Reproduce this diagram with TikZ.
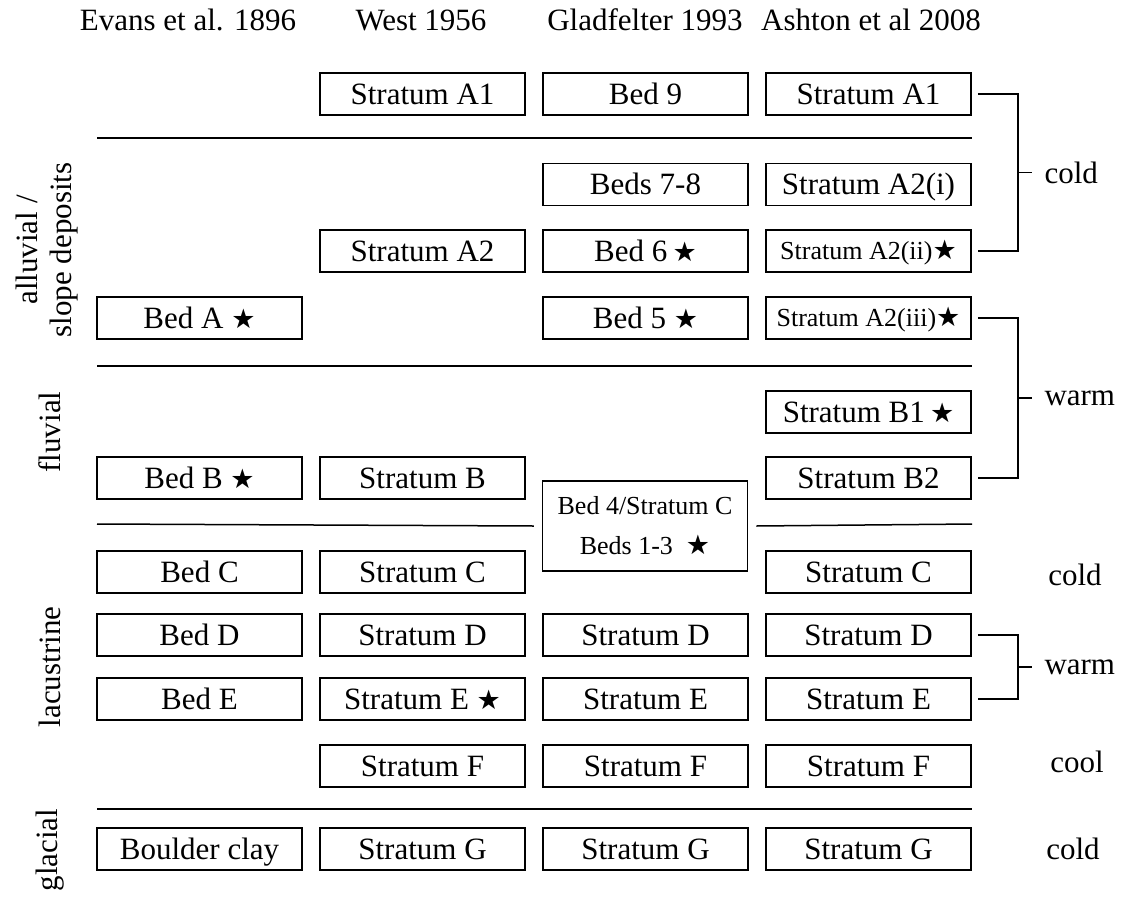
\documentclass[tikz,border=0pt]{standalone}
\usepackage{fontspec}
\setmainfont{Liberation Serif}
\newfontfamily\symfont{DejaVu Sans}
\usetikzlibrary{positioning,calc}
\newcommand{\fossil}{{\symfont\fontsize{27}{27}\selectfont ★}}
\tikzset{
  font=\fontsize{31}{34}\selectfont,
  framebox/.style={draw, line width=1.5pt, minimum width=205pt, minimum height=42pt,
    inner sep=0pt},
  layer/.style={framebox, text height=22pt, text depth=2pt},
  smalllayer/.style={framebox, font=\fontsize{26}{30}\selectfont,
    text height=19pt, text depth=2pt},
  divider/.style={line width=1.5pt},
  bracket/.style={line width=1.5pt},
  climate/.style={anchor=west, inner sep=0pt, xshift=12pt},
  facies/.style={rotate=90, align=center},
  head/.style={anchor=base},
}

\begin{document}
\begin{tikzpicture}[x=1pt,y=-1pt]
  \useasboundingbox (0,0) rectangle (1127,905);

  % column heads
  \node[head] (hEv)   at (188,30)   {Evans et al. 1896};
  \node[head] (hWest) at (421,30)   {West 1956};
  \node[head] (hGlad) at (645,30)   {Gladfelter 1993};
  \node[head] (hAsh)  at (871,30)   {Ashton et al 2008};

  % facies
  \node[facies] (fAll)  at (47,250) {alluvial /\\slope deposits};
  \node[facies] (fFluv) at (50,432) {fluvial};
  \node[facies] (fLac)  at (50,667) {lacustrine};
  \node[facies] (fGlac) at (50,850) {glacial};

  % Stratum A
  \node[layer] (westA1) at (422.5,94) {Stratum A1};
  \node[layer] (gladB9) at (645.5,94) {Bed 9};
  \node[layer] (ashA1)  at (868.5,94) {Stratum A1};

  \node[layer]      (gladB78) at (645.5,184.5) {Beds 7-8};
  \node[layer]      (ashA2i)  at (868.5,184.5) {Stratum A2(i)};
  \node[layer]      (westA2)  at (422.5,251)   {Stratum A2};
  \node[layer]      (gladB6)  at (645.5,251)   {Bed 6\,\fossil};
  \node[smalllayer] (ashA2ii) at (868.5,251)   {Stratum A2(ii)\fossil};
  \node[layer]      (evA)     at (199.5,318)   {Bed A \fossil};
  \node[layer]      (gladB5)  at (645.5,318)   {Bed 5 \fossil};
  \node[smalllayer] (ashA2iii) at (868.5,318)  {Stratum A2(iii)\fossil};

  % Stratum B
  \node[layer] (ashB1) at (868.5,412) {Stratum B1\,\fossil};
  \node[layer] (evB)   at (199.5,478) {Bed B \fossil};
  \node[layer] (westB) at (422.5,478) {Stratum B};
  \node[layer] (ashB2) at (868.5,478) {Stratum B2};
  \node[framebox, minimum height=90pt, align=center, font=\fontsize{26}{40}\selectfont]
    (gladC) at (645,526) {Bed 4/Stratum C\\Beds 1-3\enspace\fossil};

  % Stratum C to G
  \node[layer] (evC)   at (199.5,572) {Bed C};
  \node[layer] (westC) at (422.5,572) {Stratum C};
  \node[layer] (ashC)  at (868.5,572) {Stratum C};

  \node[layer] (evD)   at (199.5,635) {Bed D};
  \node[layer] (westD) at (422.5,635) {Stratum D};
  \node[layer] (gladD) at (645.5,635) {Stratum D};
  \node[layer] (ashD)  at (868.5,635) {Stratum D};

  \node[layer] (evE)   at (199.5,699) {Bed E};
  \node[layer] (westE) at (422.5,699) {Stratum E \fossil};
  \node[layer] (gladE) at (645.5,699) {Stratum E};
  \node[layer] (ashE)  at (868.5,699) {Stratum E};

  \node[layer] (westF) at (422.5,766) {Stratum F};
  \node[layer] (gladF) at (645.5,766) {Stratum F};
  \node[layer] (ashF)  at (868.5,766) {Stratum F};

  \node[layer] (evG)   at (199.5,849) {Boulder clay};
  \node[layer] (westG) at (422.5,849) {Stratum G};
  \node[layer] (gladG) at (645.5,849) {Stratum G};
  \node[layer] (ashG)  at (868.5,849) {Stratum G};

  % facies boundaries
  \draw[divider] (97,138) -- (972,138);
  \draw[divider] (97,366) -- (972,366);
  \draw[divider] (97,524) -- ([xshift=-8pt]gladC.west);
  \draw[divider] ([xshift=8pt]gladC.east) -- (972,524);
  \draw[divider] (97,809) -- (972,809);

  % climate brackets
  \draw[bracket] ([xshift=6pt]ashA1.east) -| ([xshift=46pt]ashA2ii.east) -- ([xshift=6pt]ashA2ii.east);
  \draw[bracket] ([xshift=6pt]ashA2iii.east) -| ([xshift=46pt]ashB2.east) -- ([xshift=6pt]ashB2.east);
  \draw[bracket] ([xshift=6pt]ashD.east) -| ([xshift=46pt]ashE.east) -- ([xshift=6pt]ashE.east);
  \coordinate (tCold) at ($(ashA1.east)!0.5!(ashA2ii.east)+(46,0)$);
  \coordinate (tWarm) at ($(ashA2iii.east)!0.5!(ashB2.east)+(46,0)$);
  \coordinate (tWarm2) at ($(ashD.east)!0.5!(ashE.east)+(46,0)$);
  \draw[bracket] (tCold) -- ++(14,0) node[climate] (cCold) {cold};
  \draw[bracket] (tWarm) -- ++(14,0) node[climate] (cWarm) {warm};
  \draw[bracket] (tWarm2) -- ++(14,0) node[climate] (cWarm2) {warm};
  \node (cColdC) at (1075,575) {cold};
  \node (cCool)  at (1077,762) {cool};
  \node (cColdG) at (1073,849) {cold};
\end{tikzpicture}
\end{document}
